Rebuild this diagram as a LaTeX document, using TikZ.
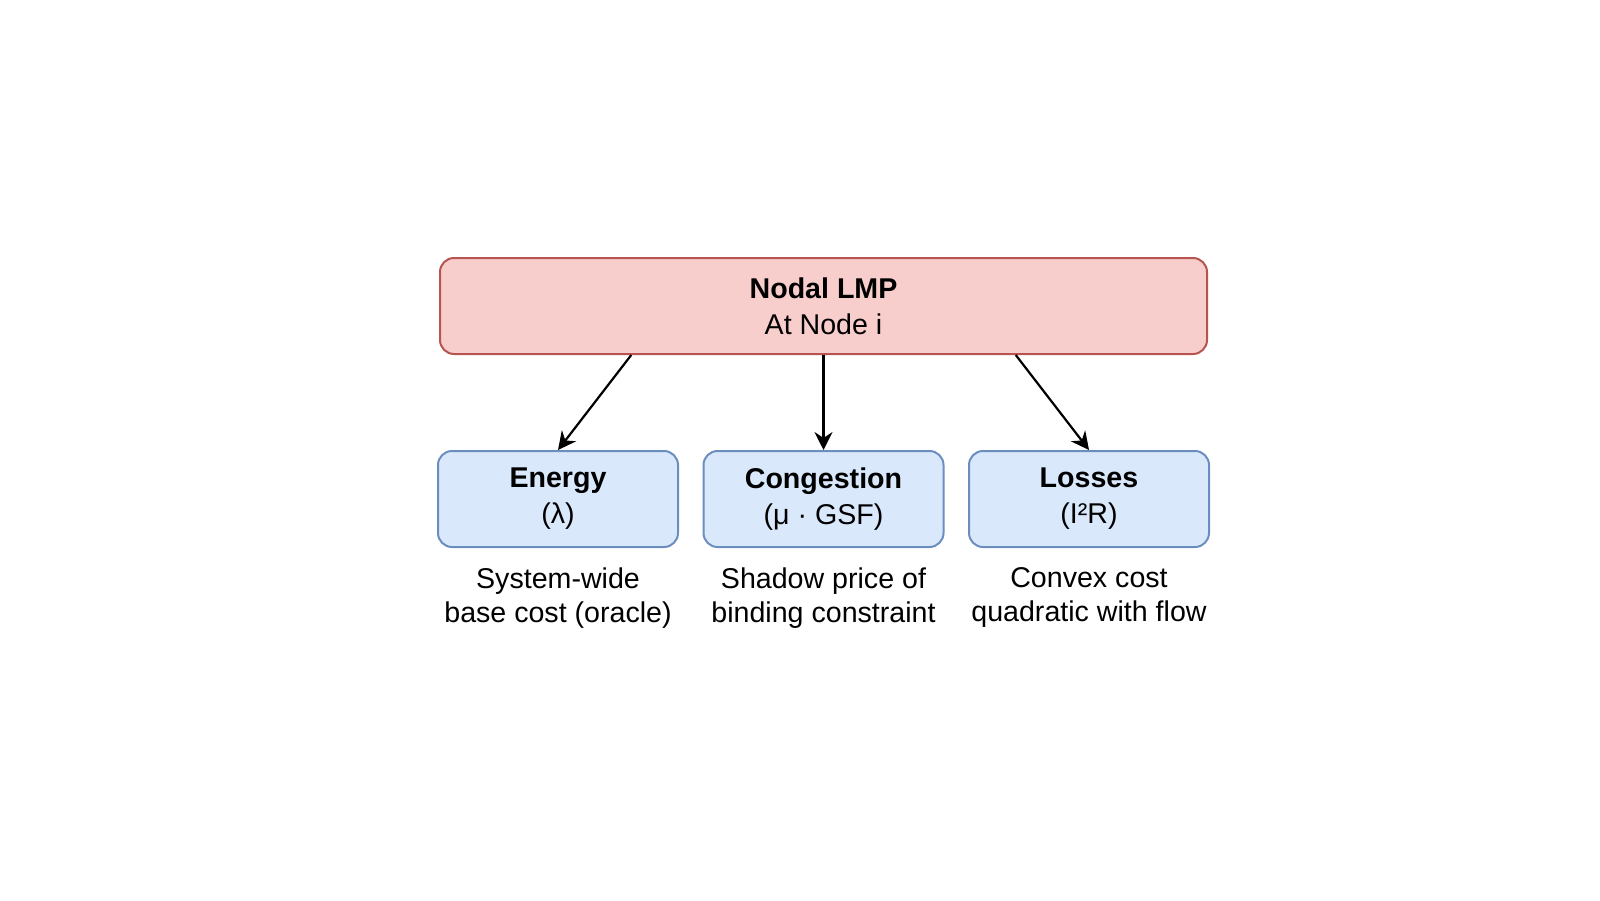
\documentclass[tikz,border=0pt]{standalone}
\usepackage{fontspec}
\setmainfont{Liberation Sans}
\usetikzlibrary{positioning,arrows.meta,calc}
\definecolor{lmpfill}{HTML}{F8CECC}
\definecolor{lmpdraw}{HTML}{B85450}
\definecolor{partfill}{HTML}{DAE8FC}
\definecolor{partdraw}{HTML}{6C8EBF}
\begin{document}
\begin{tikzpicture}[
        x=0.5pt, y=0.5pt,
        every node/.style={font=\fontsize{14.3}{18}\selectfont, text centered, align=center},
        pricebox/.style={draw=lmpdraw, fill=lmpfill, line width=1pt, rounded corners=7pt, minimum width=383.5pt, minimum height=48pt},
        partbox/.style={draw=partdraw, fill=partfill, line width=1pt, rounded corners=7pt, minimum width=120pt, minimum height=48pt},
        note/.style={inner sep=0pt, font=\fontsize{14.3}{17}\selectfont},
        link/.style={draw, line width=1.1pt, -{Stealth[length=9pt, width=9pt, inset=3pt]}},
        node distance=47.5pt and 11.75pt,
    ]
    \useasboundingbox (0,0) rectangle (1600,-900);
    \node[pricebox](lmp) at (823.5,-306){\textbf{Nodal LMP}\\At Node i};
    \node[partbox, below=of lmp](congestion){\textbf{Congestion}\\(μ · GSF)};
    \node[partbox, left=of congestion](energy){\textbf{Energy}\\(λ)};
    \node[partbox, right=of congestion](losses){\textbf{Losses}\\(I²R)};

    \node[note, below=9.5pt of energy](energynote){System-wide\\base cost (oracle)};
    \node[note, below=9.5pt of congestion](congestionnote){Shadow price of\\binding constraint};
    \node[note, below=9.5pt of losses](lossesnote){Convex cost\\quadratic with flow};

    \draw[link] ($(lmp.south west)!0.25!(lmp.south east)$) -- (energy.north);
    \draw[link] (lmp.south) -- (congestion.north);
    \draw[link] ($(lmp.south west)!0.75!(lmp.south east)$) -- (losses.north);
\end{tikzpicture}
\end{document}
